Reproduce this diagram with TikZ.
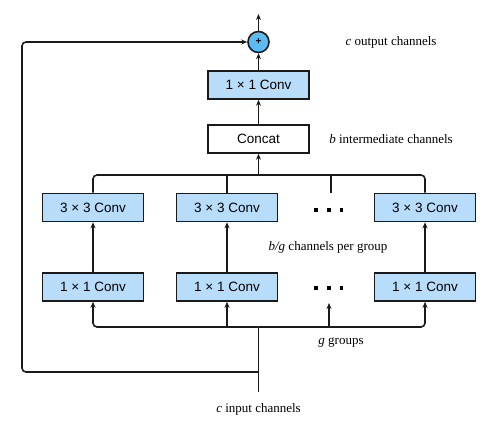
\documentclass[tikz,border=0pt]{standalone}
\usepackage{fontspec}
\setmainfont{Liberation Serif}
\newfontfamily\boxfont{Liberation Sans}
\usetikzlibrary{arrows.meta}
\definecolor{boxblue}{HTML}{B8DDFA}
\definecolor{plusblue}{HTML}{5BBCF5}
\definecolor{ink}{HTML}{1A1A1A}
\begin{document}
\begin{tikzpicture}[x=1pt,y=-1pt,
  conv/.style={draw=ink,line width=1.6pt,fill=boxblue,minimum width=101pt,minimum height=28pt,inner sep=0pt,font=\boxfont\fontsize{13.5}{15}\selectfont},
  plain/.style={conv,fill=white},
  lbl/.style={font=\fontsize{13}{15}\selectfont,inner sep=0pt},
  wire/.style={draw=ink,line width=1.6pt,rounded corners=4pt},
  arr/.style={wire,-{Stealth[length=6pt,width=5pt]}},
  dot/.style={fill=black,minimum size=3.5pt,inner sep=0pt}]
\useasboundingbox (0,0) rectangle (492,435);
% top
\node[circle,draw=ink,line width=1.6pt,fill=plusblue,minimum size=21pt,inner sep=0pt,font=\boxfont\bfseries\fontsize{10}{10}\selectfont] (plus) at (258.5,42) {+};
\coordinate (out) at (258.5,14);
\node[conv] (top) at (258.5,85) {1 × 1 Conv};
\node[plain] (concat) at (258.5,139) {Concat};
% 3x3 row
\node[conv] (a1) at (93,207.5) {3 × 3 Conv};
\node[conv] (a2) at (227,207.5) {3 × 3 Conv};
\node[conv] (a4) at (425,207.5) {3 × 3 Conv};
% 1x1 row
\node[conv] (b1) at (93,287) {1 × 1 Conv};
\node[conv] (b2) at (227,287) {1 × 1 Conv};
\node[conv] (b4) at (425,287) {1 × 1 Conv};
% dots
\foreach \x/\n in {316/1,329/2,341.5/3}{
  \node[dot] (ua\n) at (\x,210) {};
  \node[dot] (ub\n) at (\x,288) {};
}
% coordinates
\coordinate (tbus) at (258.5,175);
\coordinate (dtop) at (331,193);
\coordinate (bbus) at (258.5,327);
\coordinate (dbot) at (329,303);
\coordinate (in) at (258.5,392);
\coordinate (byp) at (258.5,372);
\coordinate (lft) at (22,42);
% labels
\node[lbl] (lout) at (391,42) {\textit{c} output channels};
\node[lbl] (lint) at (391,139) {\textit{b} intermediate channels};
\node[lbl] (lgrp) at (328,247) {\textit{b/g} channels per group};
\node[lbl] (lg) at (341,343) {\textit{g} groups};
\node[lbl] (lin) at (258.5,409) {\textit{c} input channels};
% wires
\draw[arr] (plus.north) -- (out);
\draw[arr] (top.north) -- (plus.south);
\draw[arr] (concat.north) -- (top.south);
\draw[wire] (a1.north) |- (tbus) -| (a4.north);
\draw[wire] (a2.north) -- (a2.north |- tbus);
\draw[wire] (dtop) -- (dtop |- tbus);
\draw[arr] (tbus) -- (concat.south);
\draw[arr] (b1.north) -- (a1.south);
\draw[arr] (b2.north) -- (a2.south);
\draw[arr] (b4.north) -- (a4.south);
\draw[arr] (bbus) -| (b1.south);
\draw[arr] (bbus) -| (b4.south);
\draw[arr] (b2.south |- bbus) -- (b2.south);
\draw[arr] (dbot |- bbus) -- (dbot);
\draw[wire] (in) -- (bbus);
\draw[arr] (byp) -| (lft) -- (plus.west);
\end{tikzpicture}
\end{document}
